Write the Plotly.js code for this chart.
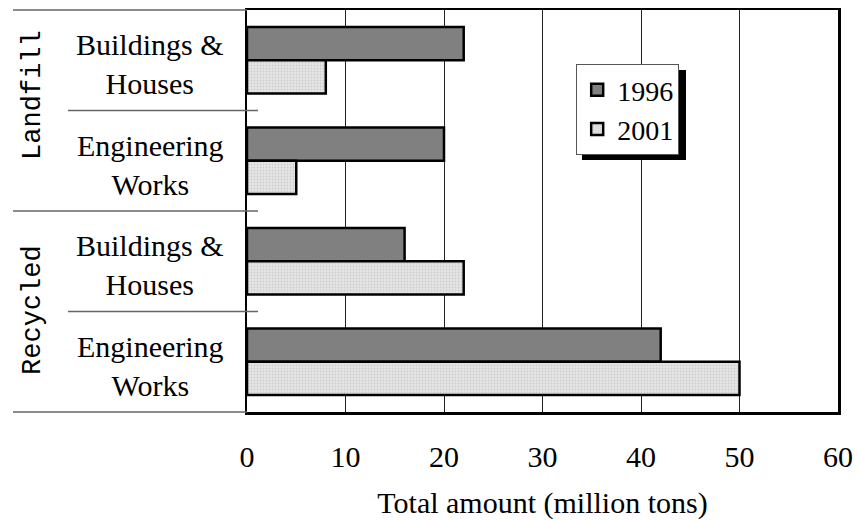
<!DOCTYPE html>
<html>
<head>
<meta charset="utf-8">
<script src="https://cdn.plot.ly/plotly-3.0.1.min.js"></script>
<style>
html,body{margin:0;padding:0;background:#fff;}
#chart{width:859px;height:520px;}
</style>
</head>
<body>
<div id="chart"></div>
<script>
// ---- data ----
const groups = ['Landfill', 'Landfill', 'Recycled', 'Recycled'];
const subcats = ['Buildings & Houses', 'Engineering Works', 'Buildings & Houses', 'Engineering Works'];
const subcatLines = [['Buildings &', 'Houses'], ['Engineering', 'Works'], ['Buildings &', 'Houses'], ['Engineering', 'Works']];
const groupNames = ['Landfill', 'Recycled'];
const series1996 = [22, 20, 16, 42];
const series2001 = [8, 5, 22, 50];
const seriesNames = ['1996', '2001'];
const xTicks = [0, 10, 20, 30, 40, 50, 60];

// ---- build ----
const keys = groups.map((g, i) => g + ' / ' + subcats[i]);
const FONT = 'Liberation Serif';

const traces = [
  {
    type: 'bar', orientation: 'h', name: seriesNames[0],
    y: keys, x: series1996,
    marker: {color: '#808080', line: {color: '#000', width: 2.5}},
    hoverinfo: 'x'
  },
  {
    type: 'bar', orientation: 'h', name: seriesNames[1],
    y: keys, x: series2001,
    marker: {
      color: '#e2e2e2',
      pattern: {shape: '.', fgcolor: '#cdcdcd', bgcolor: '#e6e6e6', size: 3, solidity: 0.3},
      line: {color: '#000', width: 2.5}
    },
    hoverinfo: 'x'
  }
];

const annotations = [];
keys.forEach((k, i) => {
  annotations.push({
    xref: 'paper', yref: 'y', x: -0.164, y: k, yshift: -4,
    xanchor: 'center', yanchor: 'middle', align: 'center',
    text: subcatLines[i].join('<br>'), showarrow: false,
    font: {family: FONT, size: 30, color: '#000'}
  });
});
const groupY = [0.789, 0.254];
groupNames.forEach((g, i) => {
  annotations.push({
    xref: 'paper', yref: 'paper', x: -0.362, y: groupY[i],
    xanchor: 'center', yanchor: 'middle', textangle: -90,
    text: g, showarrow: false,
    font: {family: 'Liberation Mono', size: 27, color: '#000'}
  });
});

const lineStyle = {color: '#666', width: 1.5};
const shapes = [
  // legend shadow
  {type: 'rect', xref: 'paper', yref: 'paper', x0: 0.5668, x1: 0.7428, y0: 0.6269, y1: 0.8507,
   fillcolor: '#000', line: {width: 0}, layer: 'above'},
  // group / category dividers
  {type: 'line', xref: 'paper', yref: 'paper', x0: -0.396, x1: 0, y0: 1, y1: 1, line: lineStyle},
  {type: 'line', xref: 'paper', yref: 'y', x0: -0.303, x1: 0.0186, y0: 0.5, y1: 0.5, line: lineStyle},
  {type: 'line', xref: 'paper', yref: 'y', x0: -0.396, x1: 0.0186, y0: 1.5, y1: 1.5, line: lineStyle},
  {type: 'line', xref: 'paper', yref: 'y', x0: -0.303, x1: 0.0186, y0: 2.5, y1: 2.5, line: lineStyle},
  {type: 'line', xref: 'paper', yref: 'paper', x0: -0.396, x1: 0, y0: 0, y1: 0, line: lineStyle}
];

const layout = {
  width: 859, height: 520,
  margin: {l: 247, r: 21, t: 10, b: 108, pad: 0},
  paper_bgcolor: '#fff', plot_bgcolor: '#fff',
  font: {family: FONT, size: 30, color: '#000'},
  barmode: 'group', bargap: 0.34, bargroupgap: 0,
  showlegend: true,
  legend: {
    x: 0.557, y: 0.8657, xanchor: 'left', yanchor: 'top',
    bgcolor: '#fff', bordercolor: '#555', borderwidth: 1,
    font: {family: FONT, size: 28, color: '#000'},
    traceorder: 'normal', tracegroupgap: 0
  },
  xaxis: {
    range: [0, 60], tickvals: xTicks, ticktext: xTicks.map(String),
    showgrid: true, gridcolor: '#222', gridwidth: 1,
    zeroline: false, showline: true, linecolor: '#000', linewidth: 2.5, mirror: true,
    ticks: '', ticklabelstandoff: 16,
    tickfont: {family: FONT, size: 30, color: '#000'},
    title: {text: 'Total amount (million tons)', standoff: 50, font: {family: FONT, size: 30, color: '#000'}},
    automargin: false, fixedrange: true
  },
  yaxis: {
    type: 'category', categoryorder: 'array', categoryarray: keys,
    range: [3.5, -0.5],
    showticklabels: false, ticks: '', showgrid: false, zeroline: false,
    showline: true, linecolor: '#000', linewidth: 2.5, mirror: true,
    automargin: false, fixedrange: true
  },
  annotations: annotations,
  shapes: shapes
};

Plotly.newPlot('chart', traces, layout, {staticPlot: true, displayModeBar: false});
</script>
</body>
</html>
